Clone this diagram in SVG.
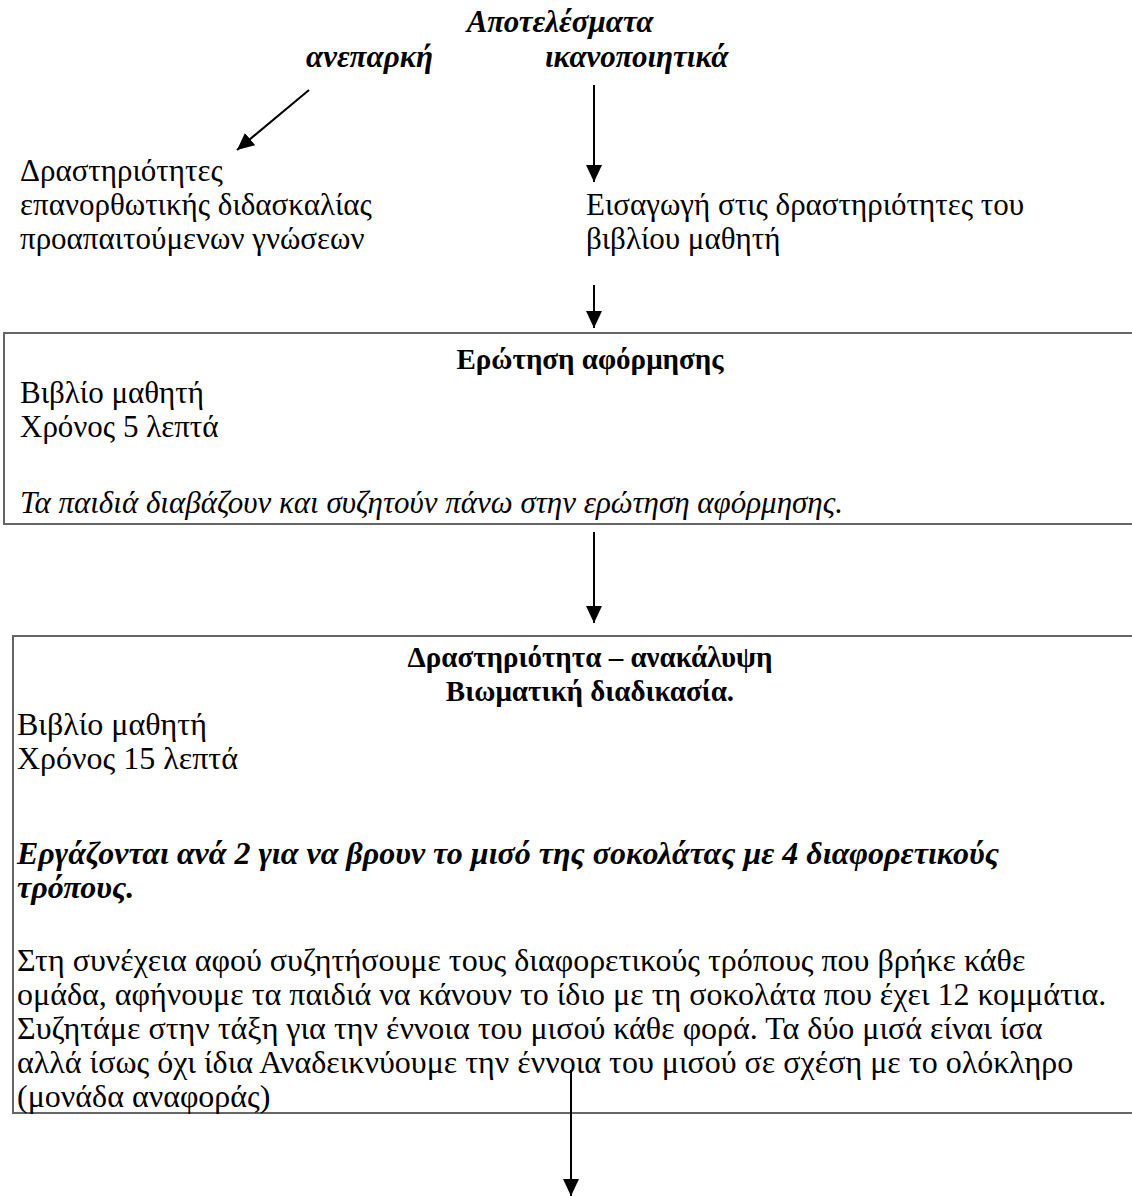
<svg xmlns="http://www.w3.org/2000/svg" width="1132" height="1196" viewBox="0 0 1132 1196">
<style>
text{font-family:"Liberation Serif","Times New Roman",serif;font-size:31px;fill:#000}
.bi{font-weight:bold;font-style:italic}
.b{font-weight:bold;font-size:29px}
.i{font-style:italic}
.l{font-size:32px}
.box{fill:none;stroke:#666;stroke-width:2}
.arr{stroke:#000;stroke-width:2;fill:none;marker-end:url(#ah)}
</style>
<defs>
<marker id="ah" markerUnits="userSpaceOnUse" markerWidth="18" markerHeight="16" refX="17" refY="8" orient="auto">
<path d="M0,0 L17,8 L0,16 z" fill="#000"/>
</marker>
</defs>
<rect width="1132" height="1196" fill="#fff"/>
<g id="header">
<text class="bi" x="560" y="32" text-anchor="middle">Αποτελέσματα</text>
<text class="bi" x="306" y="67">ανεπαρκή</text>
<text class="bi" x="545" y="67">ικανοποιητικά</text>
</g>
<g id="remedial">
<text x="20" y="181">Δραστηριότητες</text>
<text x="20" y="215">επανορθωτικής διδασκαλίας</text>
<text x="20" y="249">προαπαιτούμενων γνώσεων</text>
</g>
<g id="intro">
<text x="586" y="215">Εισαγωγή στις δραστηριότητες του</text>
<text x="586" y="249">βιβλίου μαθητή</text>
</g>
<g id="box1">
<rect class="box" x="4" y="333" width="1200" height="191"/>
<text class="b" x="590" y="369" text-anchor="middle">Ερώτηση αφόρμησης</text>
<text x="20" y="403">Βιβλίο μαθητή</text>
<text x="20" y="437">Χρόνος 5 λεπτά</text>
<text class="i" x="20" y="513">Τα παιδιά διαβάζουν και συζητούν πάνω στην ερώτηση αφόρμησης.</text>
</g>
<g id="box2">
<rect class="box" x="13" y="636" width="1200" height="477"/>
<text class="b" x="590" y="667" text-anchor="middle">Δραστηριότητα – ανακάλυψη</text>
<text class="b" x="590" y="701" text-anchor="middle">Βιωματική διαδικασία.</text>
<text class="l" x="17" y="735">Βιβλίο μαθητή</text>
<text class="l" x="17" y="769">Χρόνος 15 λεπτά</text>
<text class="bi l" x="17" y="864">Εργάζονται ανά 2 για να βρουν το μισό της σοκολάτας με 4 διαφορετικούς</text>
<text class="bi l" x="17" y="898">τρόπους.</text>
<text class="l" x="17" y="971">Στη συνέχεια αφού συζητήσουμε τους διαφορετικούς τρόπους που βρήκε κάθε</text>
<text class="l" x="17" y="1005">ομάδα, αφήνουμε τα παιδιά να κάνουν το ίδιο με τη σοκολάτα που έχει 12 κομμάτια.</text>
<text class="l" x="17" y="1039">Συζητάμε στην τάξη για την έννοια του μισού κάθε φορά. Τα δύο μισά είναι ίσα</text>
<text class="l" x="17" y="1073">αλλά ίσως όχι ίδια Αναδεικνύουμε την έννοια του μισού σε σχέση με το ολόκληρο</text>
<text class="l" x="17" y="1107">(μονάδα αναφοράς)</text>
</g>
<g id="connectors">
<line class="arr" x1="309" y1="90" x2="237" y2="150"/>
<line class="arr" x1="594" y1="85" x2="594" y2="182"/>
<line class="arr" x1="594" y1="285" x2="594" y2="328"/>
<line class="arr" x1="594" y1="532" x2="594" y2="623"/>
<line class="arr" x1="571" y1="1070" x2="571" y2="1196"/>
</g>
</svg>
